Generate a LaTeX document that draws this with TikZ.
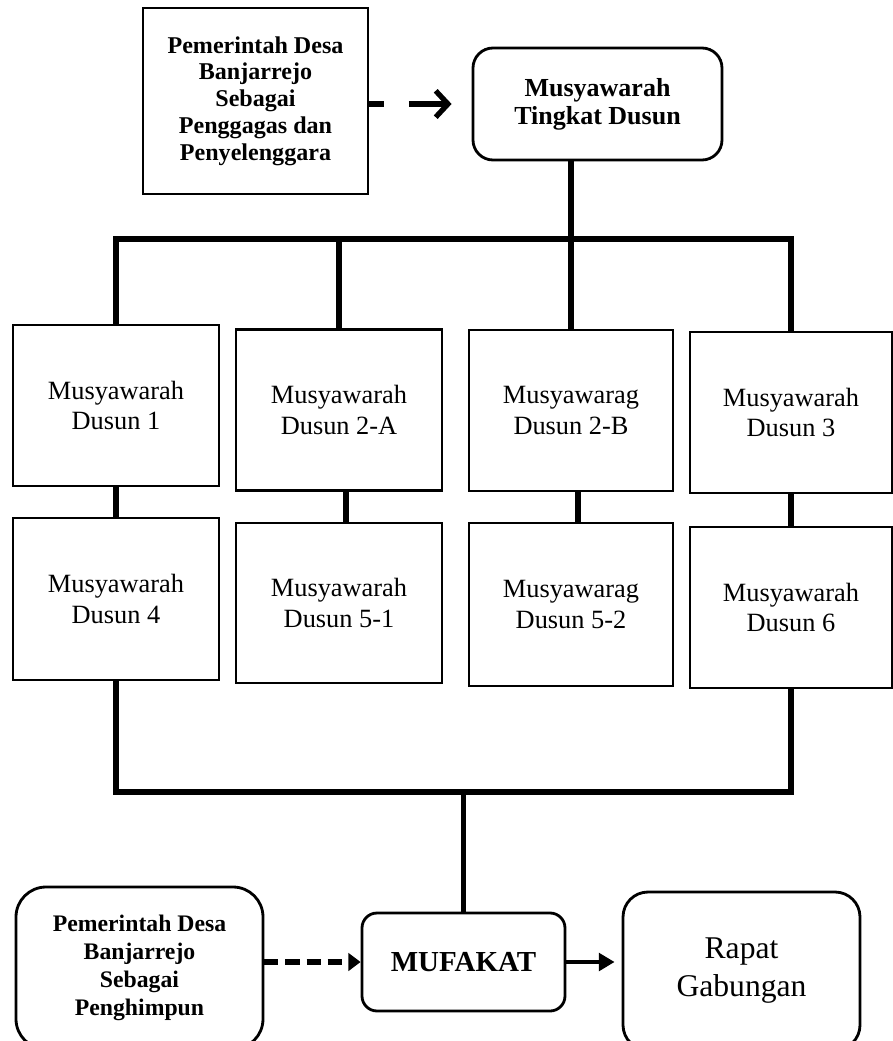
\documentclass[tikz,border=0pt]{standalone}
\usepackage{fontspec}
\setmainfont{Liberation Serif}
\usepackage{tikz}
\usetikzlibrary{arrows.meta,positioning,calc}

\begin{document}
\begin{tikzpicture}[
    dusun_box/.style={draw=black, line width=1.5pt, minimum width=4.12cm, minimum height=3.22cm, inner sep=0pt, align=center, font=\fontsize{15}{17.6}\selectfont},
    lead_box/.style={draw=black, line width=1.6pt, inner sep=0pt, align=center, font=\fontsize{13.7}{15.2}\selectfont\bfseries},
    round_box/.style={draw=black, line width=1.6pt, inner sep=0pt, align=center},
    conn/.style={line width=3.4pt, line join=miter},
    lead_conn/.style={line width=3pt, dash pattern=on 8.5pt off 14pt on 40pt off 0pt, -{Straight Barb[length=7pt,width=15pt,line width=3pt]}},
    dash_conn/.style={line width=3pt, dash pattern=on 8pt off 4pt, -{Triangle[length=7pt,width=10pt]}},
    flow_conn/.style={line width=2.3pt, -{Triangle[length=9pt,width=10pt]}}
]
    \useasboundingbox (0,0) rectangle (17.84,-20.82);

    % Top: penggagas -> musyawarah tingkat dusun
    \node[lead_box, minimum width=4.5cm, minimum height=3.72cm] (p_gagas) at (5.11,-2.02) {Pemerintah Desa\\Banjarrejo\\Sebagai\\Penggagas dan\\Penyelenggara};
    \node[round_box, rounded corners=0.4cm, minimum width=4.98cm, minimum height=2.24cm, font=\fontsize{14.8}{15.8}\selectfont\bfseries] (p_tingkat) at (11.95,-2.08) {Musyawarah\\Tingkat Dusun};

    % Row 1
    \node[dusun_box] (m_d1) at (2.32,-8.11) {Musyawarah\\Dusun 1};
    \node[dusun_box] (m_d2a) at (6.78,-8.2) {Musyawarah\\Dusun 2-A};
    \node[dusun_box, minimum width=4.08cm] (m_d2b) at (11.42,-8.21) {Musyawarag\\Dusun 2-B};
    \node[dusun_box, minimum width=4.04cm] (m_d3) at (15.82,-8.25) {Musyawarah\\Dusun 3};

    % Row 2
    \node[dusun_box, minimum height=3.24cm] (m_d4) at (2.32,-11.98) {Musyawarah\\Dusun 4};
    \node[dusun_box, minimum height=3.2cm] (m_d51) at (6.78,-12.06) {Musyawarah\\Dusun 5-1};
    \node[dusun_box, minimum width=4.08cm, minimum height=3.26cm] (m_d52) at (11.42,-12.09) {Musyawarag\\Dusun 5-2};
    \node[dusun_box, minimum width=4.04cm] (m_d6) at (15.82,-12.15) {Musyawarah\\Dusun 6};

    % Bottom
    \node[round_box, rounded corners=0.6cm, minimum width=4.94cm, minimum height=3.24cm, font=\fontsize{13.5}{15.9}\selectfont\bfseries] (p_himpun) at (2.79,-19.36) {Pemerintah Desa\\Banjarrejo\\Sebagai\\Penghimpun};
    \node[round_box, rounded corners=0.3cm, minimum width=4.06cm, minimum height=1.96cm, font=\fontsize{16.5}{19}\selectfont\bfseries] (r_mufakat) at (9.27,-19.24) {MUFAKAT};
    \node[round_box, rounded corners=0.5cm, minimum width=4.74cm, minimum height=3.16cm, font=\fontsize{18}{21.6}\selectfont] (r_gabungan) at (14.83,-19.42) {Rapat\\Gabungan};

    \coordinate (bus_top) at (11.4,-4.78);
    \coordinate (bus_bot) at (9.2,-15.84);

    % Penggagas -> tingkat dusun
    \draw[lead_conn] (p_gagas.east |- p_tingkat.west) -- ([xshift=-0.4cm]p_tingkat.west);

    % Tingkat dusun -> dusun
    \draw[conn] (p_tingkat.south -| m_d2b.north) -- (m_d2b.north);
    \draw[conn] (m_d1.north) -- (m_d1.north |- bus_top) -- (m_d3.north |- bus_top) -- (m_d3.north);
    \draw[conn] (m_d2a.north) -- (m_d2a.north |- bus_top);

    % Row 1 -> row 2
    \draw[conn] (m_d1) -- (m_d4);
    \draw[conn] ([xshift=0.14cm]m_d2a.south) -- ([xshift=0.14cm]m_d51.north);
    \draw[conn] ([xshift=0.14cm]m_d2b.south) -- ([xshift=0.14cm]m_d52.north);
    \draw[conn] (m_d3) -- (m_d6);

    % Row 2 -> mufakat
    \draw[conn] (m_d4.south) -- (m_d4.south |- bus_bot) -- (m_d6.south |- bus_bot) -- (m_d6.south);
    \draw[conn] (r_mufakat.north) -- (r_mufakat.north |- bus_bot);

    % Penghimpun -> mufakat -> rapat gabungan
    \draw[dash_conn] (p_himpun.east |- r_mufakat.west) -- (r_mufakat.west);
    \draw[flow_conn] (r_mufakat.east) -- ([xshift=-0.14cm]r_gabungan.west |- r_mufakat.east);

\end{tikzpicture}
\end{document}
